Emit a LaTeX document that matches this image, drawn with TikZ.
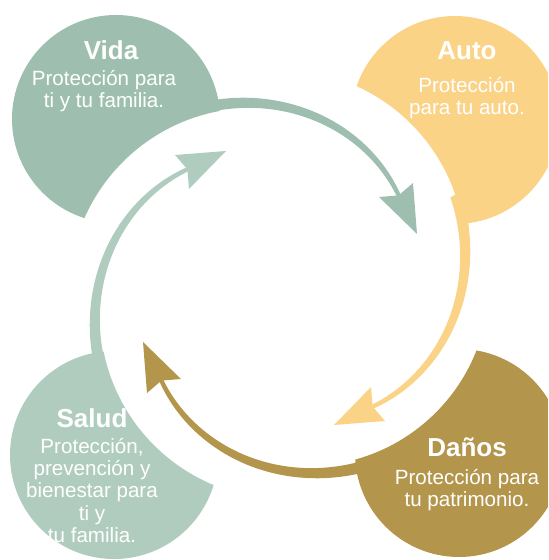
\documentclass[tikz,border=0pt]{standalone}
\usepackage{fontspec}
\setmainfont{Liberation Sans}
\usetikzlibrary{positioning}
\definecolor{colvida}{HTML}{9EBFB0}
\definecolor{colauto}{HTML}{FAD387}
\definecolor{coldanos}{HTML}{B3964C}
\definecolor{colsalud}{HTML}{B0CCBF}
\tikzset{
    titulo/.style={text=white, font=\bfseries\fontsize{13}{13}\selectfont, anchor=base, inner sep=0pt},
    texto/.style={text=white, font=\fontsize{10.3}{11}\selectfont, align=center, anchor=base, inner sep=0pt}
}

\begin{document}
\begin{tikzpicture}[x=0.5pt, y=0.5pt]
    \clip (0,0) rectangle (548,560);
    \coordinate (cvida) at (116,441);
    \coordinate (cauto) at (455,440);
    \coordinate (cdanos) at (459,107);
    \coordinate (csalud) at (114,105);
    \coordinate (centro) at (280,272);
    % circulos recortados
    \begin{scope}[even odd rule]
        \clip (0,0) rectangle (548,560) (253,268) circle (184);
        \fill[colvida] (cvida) circle (104);
    \end{scope}
    \begin{scope}[even odd rule]
        \clip (0,0) rectangle (548,560) (281,306) circle (184);
        \fill[colauto] (cauto) circle (104);
    \end{scope}
    \begin{scope}[even odd rule]
        \clip (0,0) rectangle (548,560) (307,276) circle (182);
        \fill[coldanos] (cdanos) circle (104);
    \end{scope}
    \begin{scope}[even odd rule]
        \clip (0,0) rectangle (548,560) (284,245) circle (184);
        \fill[colsalud] (csalud) circle (104);
    \end{scope}
    % flechas
    \foreach \giro/\col in {0/colvida, -90/colauto, -180/coldanos, -270/colsalud}{
        \begin{scope}[shift={(centro)}, rotate=\giro]
            \fill[\col] plot[domain=118:36, samples=50, variable=\a]
                (\a:{183.1-0.605*(91.8-\a)+(4.5+7.5*(\a-40.2)/77.8)/2})
                -- plot[domain=36:118, samples=50, variable=\a]
                (\a:{183.1-0.605*(91.8-\a)-(4.5+7.5*(\a-40.2)/77.8)/2}) -- cycle;
            \fill[\col] (137,54) -- (133,105) -- (118.6,92.6) -- (99,91) -- cycle;
        \end{scope}
    }
    % textos
    \node[titulo] (tvida) at (111,500) {Vida};
    \node[texto] (pvida) at (104,452) {Protección para\\ti y tu familia.};
    \node[titulo] (tauto) at (467,500) {Auto};
    \node[texto] (pauto) at (467,445) {Protección\\para tu auto.};
    \node[titulo] (tdanos) at (467,103) {Daños};
    \node[texto] (pdanos) at (467,53) {Protección para\\tu patrimonio.};
    \node[titulo] (tsalud) at (92,132) {Salud};
    \node[texto] (psalud) at (92,18) {Protección,\\prevención y\\bienestar para\\ti y\\tu familia.};
\end{tikzpicture}
\end{document}
